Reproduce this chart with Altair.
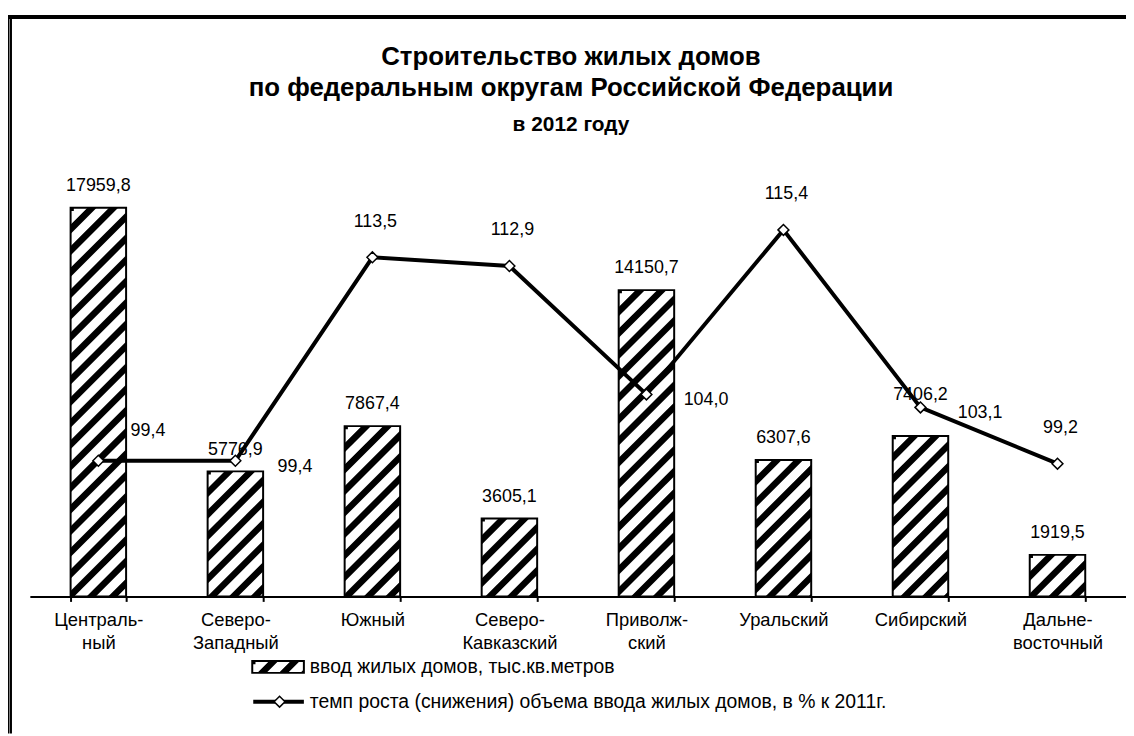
import base64
import altair as alt
import pandas as pd

# ---------------- data ----------------
districts = ["Централь-|ный", "Северо-|Западный", "Южный", "Северо-|Кавказский",
             "Приволж-|ский", "Уральский", "Сибирский", "Дальне-|восточный"]
housing = [17959.8, 5776.9, 7867.4, 3605.1, 14150.7, 6307.6, 7406.2, 1919.5]
growth = [99.4, 99.4, 113.5, 112.9, 104.0, 115.4, 103.1, 99.2]
# label placement styles (not coordinates)
growth_label_place = ["upright", "right", "above", "above", "right", "above", "right", "above"]
housing_label_place = ["near", "near", "near", "near", "near", "near", "far", "near"]

title_line1 = "Строительство жилых домов"
title_line2 = "по федеральным округам Российской Федерации"
subtitle_text = "в 2012 году"
legend_bar_text = "ввод жилых домов, тыс.кв.метров"
legend_line_text = "темп роста (снижения) объема ввода жилых домов, в % к 2011г."


def ru(v):
    return f"{v:.1f}".replace(".", ",")


df = pd.DataFrame({
    "district": districts,
    "housing": housing,
    "growth": growth,
    "place": growth_label_place,
    "hplace": housing_label_place,
    "housing_lbl": [ru(v) for v in housing],
    "growth_lbl": [ru(v) for v in growth],
})

FONT = "Liberation Sans"

# hatch texture (diagonal stripes), drawn unscaled inside each bar
period = 21.7
lines = "".join(
    f'<line x1="0" y1="{k * period:.2f}" x2="{k * period:.2f}" y2="0"/>' for k in range(0, 60)
)
svg = ('<svg xmlns="http://www.w3.org/2000/svg" width="100%" height="100%">'
       f'<g stroke="#000" stroke-width="6.5" stroke-linecap="square">{lines}</g></svg>')
hatch_url = "data:image/svg+xml;base64," + base64.b64encode(svg.encode("utf-8")).decode("ascii")

x_enc = alt.X(
    "district:N", sort=districts, title=None,
    scale=alt.Scale(paddingInner=0.595, paddingOuter=0.2975),
    axis=alt.Axis(
        labelExpr="split(datum.label, '|')", labelAngle=0, labelFontSize=18.5,
        labelFont=FONT, labelColor="black", labelLineHeight=23, labelPadding=9,
        tickBand="extent", tickSize=5, tickWidth=2, tickColor="black",
        domainColor="black", domainWidth=2, grid=False,
    ),
)
y_bar = alt.Y("housing:Q", scale=alt.Scale(domain=[0, 20000]), axis=None)
y_line = alt.Y("growth:Q", scale=alt.Scale(domain=[90, 120]), axis=None)

base = alt.Chart(df)

bars_img = base.mark_image(aspect=False).encode(
    x=x_enc, y=y_bar, y2=alt.datum(0), url=alt.value(hatch_url)
)
bars_outline = base.mark_bar(fillOpacity=0, stroke="black", strokeWidth=2).encode(x=x_enc, y=y_bar)
bar_label_offsets = {"near": -22, "far": -41}
bar_labels = [
    base.transform_filter(alt.datum.hplace == p)
    .mark_text(dy=dy, fontSize=18, font=FONT, color="black")
    .encode(x=x_enc, y=y_bar, text="housing_lbl:N")
    for p, dy in bar_label_offsets.items()
]
bar_layer = alt.layer(bars_img, bars_outline, *bar_labels)

line = base.mark_line(color="black", strokeWidth=4).encode(x=x_enc, y=y_line)
points = base.mark_point(shape="diamond", filled=True, fill="white", stroke="black",
                         strokeWidth=1.5, size=120, opacity=1).encode(x=x_enc, y=y_line)

place_offsets = {"upright": (50, -30), "right": (60, 6), "above": (3, -36)}
glabels = [
    base.transform_filter(alt.datum.place == p)
    .mark_text(dx=dx, dy=dy, fontSize=18, font=FONT, color="black")
    .encode(x=x_enc, y=y_line, text="growth_lbl:N")
    for p, (dx, dy) in place_offsets.items()
]
line_layer = alt.layer(line, points, *glabels)

one = alt.Data(values=[{"k": 1}])

# title
title_layers = [
    alt.Chart(one).mark_text(fontSize=fs, fontWeight="bold", font=FONT, color="black",
                             baseline="middle").encode(
        x=alt.value(545), y=alt.value(yv), text=alt.value(t))
    for t, fs, yv in [(title_line1, 26, -107), (title_line2, 26, -76), (subtitle_text, 21, -39)]
]

# frame
frame_top = alt.Chart(one).mark_rule(color="black", strokeWidth=4).encode(
    x=alt.value(-22), x2=alt.value(1104), y=alt.value(-147.5))
frame_l1 = alt.Chart(one).mark_rule(color="black", strokeWidth=1.5).encode(
    x=alt.value(-21.25), y=alt.value(-149.5), y2=alt.value(574))
frame_l2 = alt.Chart(one).mark_rule(color="black", strokeWidth=2).encode(
    x=alt.value(-19), y=alt.value(-149.5), y2=alt.value(574))

# legend
leg_img = alt.Chart(one).mark_image(aspect=False).encode(
    x=alt.value(224), x2=alt.value(276), y=alt.value(501), y2=alt.value(513),
    url=alt.value(hatch_url))
leg_box = alt.Chart(one).mark_rect(fillOpacity=0, stroke="black", strokeWidth=2).encode(
    x=alt.value(224), x2=alt.value(276), y=alt.value(501), y2=alt.value(513))
leg_text1 = alt.Chart(one).mark_text(align="left", baseline="middle", fontSize=19.5,
                                     font=FONT, color="black").encode(
    x=alt.value(282), y=alt.value(507), text=alt.value(legend_bar_text))
leg_line = alt.Chart(one).mark_rule(color="black", strokeWidth=4).encode(
    x=alt.value(225), x2=alt.value(276), y=alt.value(542))
leg_pt = alt.Chart(one).mark_point(shape="diamond", filled=True, fill="white", stroke="black",
                                   strokeWidth=1.5, size=120, opacity=1).encode(
    x=alt.value(251.5), y=alt.value(542))
leg_text2 = alt.Chart(one).mark_text(align="left", baseline="middle", fontSize=19.5,
                                     font=FONT, color="black").encode(
    x=alt.value(282), y=alt.value(542), text=alt.value(legend_line_text))

chart = alt.layer(
    frame_top, frame_l1, frame_l2, *title_layers,
    bar_layer, line_layer,
    leg_img, leg_box, leg_text1, leg_line, leg_pt, leg_text2,
).resolve_scale(y="independent").properties(
    width=1104, height=436, autosize="none",
    padding={"left": 22, "top": 154, "right": 0, "bottom": 146},
    background="white",
).configure_view(stroke=None)

chart.save("out.html", embed_options={"renderer": "svg", "actions": False})
